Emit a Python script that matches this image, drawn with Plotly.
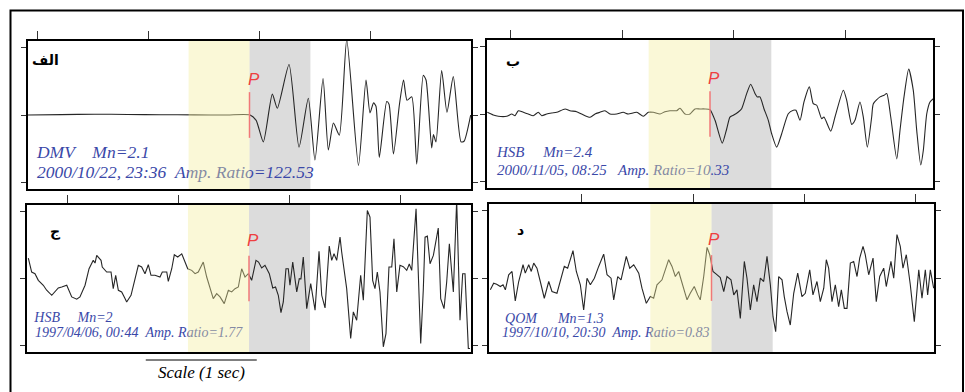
import plotly.graph_objects as go

# ---------------- data (time in s, normalised amplitude) ----------------
t1 = [0.0, 0.3, 0.6, 0.9, 1.2, 1.5, 1.8, 2.005, 2.06, 2.125, 2.206, 2.251, 2.357, 2.447, 2.531, 2.591,
      2.664, 2.712, 2.758, 2.811, 2.878, 2.984, 3.052, 3.088, 3.120, 3.142, 3.172, 3.239, 3.260, 3.300,
      3.354, 3.391, 3.422, 3.465, 3.510, 3.569, 3.594, 3.645, 3.661, 3.684, 3.735, 3.783, 3.840, 3.910,
      3.937, 3.997]
a1 = [0.0, 0.005, 0.012, 0.008, 0.004, 0.002, 0.0, 0.0, -0.08, -0.40, 0.31, 0.10, 0.75, -0.48, 0.25, -0.67,
      0.54, -0.52, -0.12, -0.30, 1.12, -0.75, 0.52, 0.03, 0.18, 0.13, -0.63, 0.20, 0.16, -0.58,
      0.16, 0.52, 0.22, 0.27, -0.73, 0.59, 0.52, -0.49, -0.29, -0.40, 0.66, 0.04, 0.57, -0.40,
      -0.39, 0.0]

t2 = [0.003, 0.056, 0.101, 0.177, 0.222, 0.251, 0.281, 0.326, 0.370, 0.415,
      0.460, 0.491, 0.535, 0.580, 0.625, 0.700, 0.744, 0.804, 0.849, 0.924,
      0.969, 1.013, 1.058, 1.103, 1.163, 1.222, 1.267, 1.343, 1.402, 1.447,
      1.491, 1.552, 1.596, 1.641, 1.701, 1.731, 1.776, 1.821, 1.865, 1.910,
      1.955, 2.000, 2.045, 2.110, 2.150, 2.179, 2.209, 2.254, 2.284, 2.329,
      2.365, 2.404, 2.424, 2.448, 2.484, 2.523, 2.553, 2.598, 2.643, 2.702,
      2.747, 2.771, 2.807, 2.843, 2.891, 2.926, 2.957, 3.002, 3.022, 3.083,
      3.121, 3.196, 3.226, 3.271, 3.300, 3.345, 3.375, 3.411, 3.450, 3.465,
      3.525, 3.561, 3.585, 3.621, 3.675, 3.704, 3.740, 3.782, 3.823, 3.854,
      3.890, 3.913, 3.944, 3.973, 4.003]
a2 = [0.025, -0.015, -0.034, -0.034, 0.0, -0.025, 0.049, 0.025, 0.0, -0.025,
      0.025, -0.025, 0.0, 0.015, 0.025, 0.075, 0.049, 0.034, 0.0, -0.049,
      0.0, 0.025, 0.049, 0.0, 0.0, 0.025, 0.0, 0.025, -0.034, 0.025,
      0.025, 0.0, 0.034, 0.049, 0.049, 0.085, 0.0, 0.0, 0.075, 0.075,
      0.075, 0.064, -0.094, -0.433, -0.219, -0.045, -0.019, 0.030, 0.079, 0.303,
      0.443, 0.303, 0.254, 0.254, 0.079, -0.094, -0.294, -0.493, -0.294, 0.004,
      0.055, 0.055, -0.094, 0.179, 0.403, 0.154, 0.130, -0.070, -0.045, -0.254,
      -0.045, 0.354, 0.204, -0.154, -0.094, 0.179, -0.045, -0.493, -0.045, 0.154,
      0.254, 0.279, 0.303, -0.045, -0.667, -0.243, 0.254, 0.667, 0.354, -0.243,
      -0.757, -0.542, 0.004, 0.179, 0.228]

t3 = [0.012, 0.042, 0.072, 0.102, 0.147, 0.177, 0.223, 0.259, 0.282, 0.313,
      0.358, 0.403, 0.448, 0.477, 0.523, 0.559, 0.597, 0.613, 0.628, 0.667,
      0.678, 0.718, 0.757, 0.777, 0.799, 0.823, 0.853, 0.883, 0.898, 0.937,
      0.973, 1.003, 1.033, 1.063, 1.093, 1.117, 1.153, 1.198, 1.219, 1.259,
      1.273, 1.304, 1.327, 1.358, 1.394, 1.417, 1.448, 1.484, 1.514, 1.543,
      1.588, 1.619, 1.649, 1.678, 1.709, 1.739, 1.777, 1.814, 1.844, 1.874,
      1.904, 1.934, 1.964, 1.994, 2.024, 2.063, 2.086, 2.114, 2.144, 2.183,
      2.214, 2.239, 2.264, 2.288, 2.309, 2.333, 2.354, 2.369, 2.394, 2.414,
      2.430, 2.453, 2.468, 2.489, 2.520, 2.556, 2.595, 2.631, 2.655, 2.685,
      2.723, 2.745, 2.766, 2.790, 2.820, 2.835, 2.880, 2.916, 2.940, 2.970,
      3.006, 3.030, 3.066, 3.090, 3.114, 3.135, 3.156, 3.180, 3.210, 3.234,
      3.261, 3.286, 3.306, 3.331, 3.360, 3.390, 3.421, 3.444, 3.466, 3.505,
      3.547, 3.570, 3.586, 3.607, 3.631, 3.661, 3.705, 3.727, 3.757, 3.781,
      3.805, 3.841, 3.871, 3.901, 3.925, 3.946, 3.976, 3.991]
a3 = [0.306, 0.097, 0.072, -0.027, -0.101, -0.176, -0.251, -0.176, -0.142, -0.127,
      -0.101, -0.276, -0.310, -0.276, -0.101, 0.146, 0.272, 0.231, 0.346, 0.272,
      0.172, 0.097, 0.097, -0.152, 0.048, -0.176, -0.201, -0.301, -0.351, -0.251,
      -0.003, 0.197, 0.172, 0.072, 0.206, 0.048, 0.048, 0.022, 0.097, 0.097,
      -0.042, 0.146, 0.355, 0.321, 0.370, 0.272, 0.146, 0.122, 0.072, 0.097,
      0.246, 0.022, -0.127, -0.301, -0.227, -0.276, -0.376, -0.176, -0.201, -0.152,
      -0.127, 0.146, 0.022, 0.072, -0.027, 0.272, 0.246, 0.157, 0.197, 0.072,
      -0.142, -0.127, -0.251, -0.510, -0.351, 0.146, 0.146, -0.101, 0.246, -0.003,
      -0.201, -0.003, -0.007, 0.321, -0.451, -0.078, -0.475, 0.406, -0.251, -0.440,
      0.485, 0.272, 0.370, 0.272, 0.619, 0.396, -0.152, -0.899, -0.500, -0.624,
      0.048, -0.325, 1.018, 0.918, -0.027, -0.152, 0.097, -0.201, -1.022, -0.824,
      0.172, 0.172, 0.594, -0.201, 0.197, 0.176, 0.122, 0.216, 0.122, 1.042,
      -0.973, -0.176, 0.619, 0.634, 0.221, 0.346, 0.754, -0.301, -0.451, -0.052,
      0.519, -0.201, 1.17, -0.624, 0.072, 0.072, -1.048, -1.048]

t4 = [0.012, 0.042, 0.069, 0.102, 0.126, 0.147, 0.177, 0.207, 0.236, 0.267,
      0.306, 0.326, 0.357, 0.380, 0.402, 0.431, 0.461, 0.497, 0.537, 0.566,
      0.611, 0.647, 0.677, 0.707, 0.755, 0.785, 0.821, 0.851, 0.881, 0.911,
      0.947, 0.986, 1.031, 1.061, 1.097, 1.121, 1.157, 1.187, 1.234, 1.265,
      1.301, 1.346, 1.375, 1.414, 1.450, 1.480, 1.510, 1.555, 1.615, 1.645,
      1.675, 1.705, 1.750, 1.780, 1.809, 1.845, 1.876, 1.899, 1.930, 1.960,
      1.984, 2.013, 2.043, 2.079, 2.110, 2.139, 2.175, 2.200, 2.229, 2.259,
      2.295, 2.319, 2.349, 2.379, 2.409, 2.439, 2.469, 2.499, 2.529, 2.553,
      2.577, 2.604, 2.634, 2.654, 2.679, 2.708, 2.739, 2.775, 2.813, 2.843,
      2.883, 2.912, 2.948, 2.978, 3.009, 3.032, 3.053, 3.083, 3.113, 3.143,
      3.167, 3.194, 3.218, 3.248, 3.278, 3.308, 3.332, 3.362, 3.382, 3.413,
      3.452, 3.481, 3.512, 3.548, 3.571, 3.613, 3.638, 3.667, 3.697, 3.721,
      3.751, 3.787, 3.823, 3.863, 3.892, 3.922, 3.943, 3.967, 3.997]
a4 = [-0.176, -0.078, -0.093, -0.127, -0.101, -0.176, 0.048, 0.097, -0.340, -0.052,
      0.197, 0.072, 0.197, 0.097, 0.221, 0.146, -0.052, -0.301, -0.052, -0.201,
      -0.227, -0.003, 0.172, 0.146, 0.406, 0.097, -0.101, -0.475, -0.003, -0.101,
      -0.003, 0.172, 0.355, 0.048, -0.003, -0.325, 0.022, -0.027, 0.321, 0.146,
      0.197, 0.072, -0.152, -0.376, -0.276, -0.301, -0.101, -0.027, 0.272, 0.172,
      0.022, 0.097, -0.176, -0.325, -0.227, -0.127, -0.251, -0.325, 0.022, 0.455,
      0.346, 0.097, 0.057, 0.007, -0.201, 0.022, -0.027, -0.251, -0.176, -0.600,
      0.246, -0.003, -0.475, -0.101, -0.351, -0.003, -0.052, 0.321, -0.101, -0.575,
      -0.799, 0.022, -0.027, -0.276, -0.500, -0.699, -0.227, 0.072, -0.276, -0.227,
      0.122, -0.251, -0.052, -0.351, -0.152, 0.272, 0.146, -0.351, -0.101, -0.425,
      -0.176, -0.451, -0.451, 0.221, 0.246, 0.022, 0.296, 0.470, 0.346, 0.048,
      0.296, -0.351, 0.022, 0.146, -0.127, 0.246, -0.003, 0.645, 0.470, 0.146,
      0.346, -0.101, -0.649, 0.122, -0.301, 0.122, -0.251, 0.122, -0.152]

panel_labels = ["الف", "ب", "ج", "د"]
stations = ["DMV", "HSB", "HSB", "QOM"]
magnitudes = ["2.1", "2.4", "2", "1.3"]
dates = ["2000/10/22, 23:36", "2000/11/05, 08:25", "1997/04/06, 00:44", "1997/10/10, 20:30"]
amp_ratios = ["122.53", "10.33", "1.77", "0.83"]
noise_start, p_time, signal_end = 1.45, 2.0, 2.55
scale_sec = 1.0

times = [t1, t2, t3, t4]
amps = [a1, a2, a3, a4]

# ---------------- layout (positions / styles) ----------------
W, H = 965, 392
def px(x):
    return x / W
def py(y):
    return 1 - y / H

x_dom = [[px(28), px(471)], [px(487), px(933)], [px(27), px(471)], [px(489), px(934)]]
y_dom = [[py(189), py(41)], [py(188), py(40)], [py(352), py(205)], [py(352), py(204)]]
top_tick0 = [0.09, 0.215, 0.365, 0.835]
bot_tick0 = [0.225, 0.68, 0.07, 0.97]
spline = [True, True, False, False]
font_sz = [17.5, 15, 14, 14]
gap1 = [4, 5, 5, 6]
gap2 = [2, 3, 2, 2]
txt_x1 = [0.081, 0.09, 0.066, 0.144]
txt_x2 = [0.081, 0.09, 0.072, 0.117]
txt_y = [[-0.58, -0.87], [-0.59, -0.85], [-0.60, -0.83], [-0.61, -0.83]]
lab_pos = [(0.158, 0.82), (0.233, 0.79), (0.26, 0.71), (0.28, 0.72)]
p_pos = [(2.04, 0.53), (2.04, 0.53), (2.04, 0.57), (2.02, 0.57)]
BLUE = "#3a48a8"
NB = "\u00a0"

fig = go.Figure()
shapes = []
annotations = []
layout_axes = {}

for i in range(4):
    k = i + 1
    xn = "x" if k == 1 else f"x{k}"
    yn = "y" if k == 1 else f"y{k}"
    xk = "xaxis" if k == 1 else f"xaxis{k}"
    yk = "yaxis" if k == 1 else f"yaxis{k}"

    fig.add_trace(go.Scatter(
        x=times[i], y=amps[i], xaxis=xn, yaxis=yn, mode="lines",
        line=dict(color="#262626", width=1.1, shape="spline" if spline[i] else "linear", smoothing=0.6),
        hoverinfo="skip", showlegend=False))

    line1 = stations[i] + NB * gap1[i] + "Mn=" + magnitudes[i]
    line2 = dates[i] + NB * gap2[i] + "Amp. Ratio=" + amp_ratios[i]
    fig.add_trace(go.Scatter(
        x=[txt_x1[i], txt_x2[i]], y=txt_y[i], xaxis=xn, yaxis=yn, mode="text",
        text=[line1, line2], textposition="middle right", cliponaxis=False,
        textfont=dict(family="Liberation Serif", size=font_sz[i], color=BLUE, style="italic"),
        hoverinfo="skip", showlegend=False))

    layout_axes[xk] = dict(domain=x_dom[i], range=[0, 4], side="top", anchor=yn,
                           showline=True, mirror=True, linecolor="black", linewidth=2,
                           ticks="outside", ticklen=8, tickwidth=1, tickcolor="#333",
                           tickmode="linear", tick0=top_tick0[i], dtick=1,
                           showticklabels=False, showgrid=False, zeroline=False)
    layout_axes[f"xaxis{k+4}"] = dict(domain=x_dom[i], range=[0, 4], side="bottom", anchor=yn,
                                      overlaying=xn, showline=False,
                                      ticks="inside", ticklen=6, tickwidth=1, tickcolor="#333",
                                      tickmode="linear", tick0=bot_tick0[i], dtick=1,
                                      showticklabels=False, showgrid=False, zeroline=False)
    layout_axes[yk] = dict(domain=y_dom[i], range=[-1.1, 1.1], anchor=xn,
                           showline=True, mirror="ticks", linecolor="black", linewidth=2,
                           ticks="outside", ticklen=5, tickwidth=1, tickcolor="#333",
                           tickvals=[-1, 0, 1], showticklabels=False, showgrid=False, zeroline=False)

    # signal window (grey) and noise window (yellow)
    shapes.append(dict(type="rect", xref=xn, yref=f"{yn} domain", x0=p_time, x1=signal_end,
                       y0=0, y1=1, fillcolor="#dcdcdc", line=dict(width=0), layer="below"))
    shapes.append(dict(type="rect", xref=xn, yref=f"{yn} domain", x0=noise_start, x1=p_time,
                       y0=0, y1=1, fillcolor="rgba(243,238,155,0.4)", line=dict(width=0), layer="above"))
    # P pick
    shapes.append(dict(type="line", xref=xn, yref=yn, x0=p_time, x1=p_time, y0=-0.34, y1=0.34,
                       line=dict(color="#f07878", width=1.5), layer="above"))
    annotations.append(dict(x=p_pos[i][0], y=p_pos[i][1], xref=xn, yref=yn, text="P", showarrow=False,
                            font=dict(family="Liberation Sans", size=17, color="#ee4040", style="italic")))
    annotations.append(dict(x=lab_pos[i][0], y=lab_pos[i][1], xref=xn, yref=yn, text=panel_labels[i],
                            showarrow=False, font=dict(family="DejaVu Sans", size=14, color="black",
                                                        weight="bold")))

# scale bar (1 s) under lower-left panel
shapes.append(dict(type="line", xref="x3", yref="paper", x0=bot_tick0[2] + 1, x1=bot_tick0[2] + 1 + scale_sec,
                   y0=py(360), y1=py(360), line=dict(color="black", width=1)))
annotations.append(dict(x=bot_tick0[2] + 1 + scale_sec / 2, y=py(372), xref="x3", yref="paper",
                        xanchor="center", yanchor="middle",
                        text="Scale (1 sec)", showarrow=False,
                        font=dict(family="Liberation Serif", size=17, color="black", style="italic")))
# outer frame
shapes.append(dict(type="rect", xref="paper", yref="paper", x0=px(10.5), x1=px(963), y0=-0.1, y1=py(10.5),
                   line=dict(color="black", width=2), fillcolor="rgba(0,0,0,0)", layer="above"))

fig.update_layout(width=W, height=H, margin=dict(l=0, r=0, t=0, b=0),
                  paper_bgcolor="white", plot_bgcolor="white",
                  shapes=shapes, annotations=annotations, showlegend=False, **layout_axes)

fig.write_html("out.html")
